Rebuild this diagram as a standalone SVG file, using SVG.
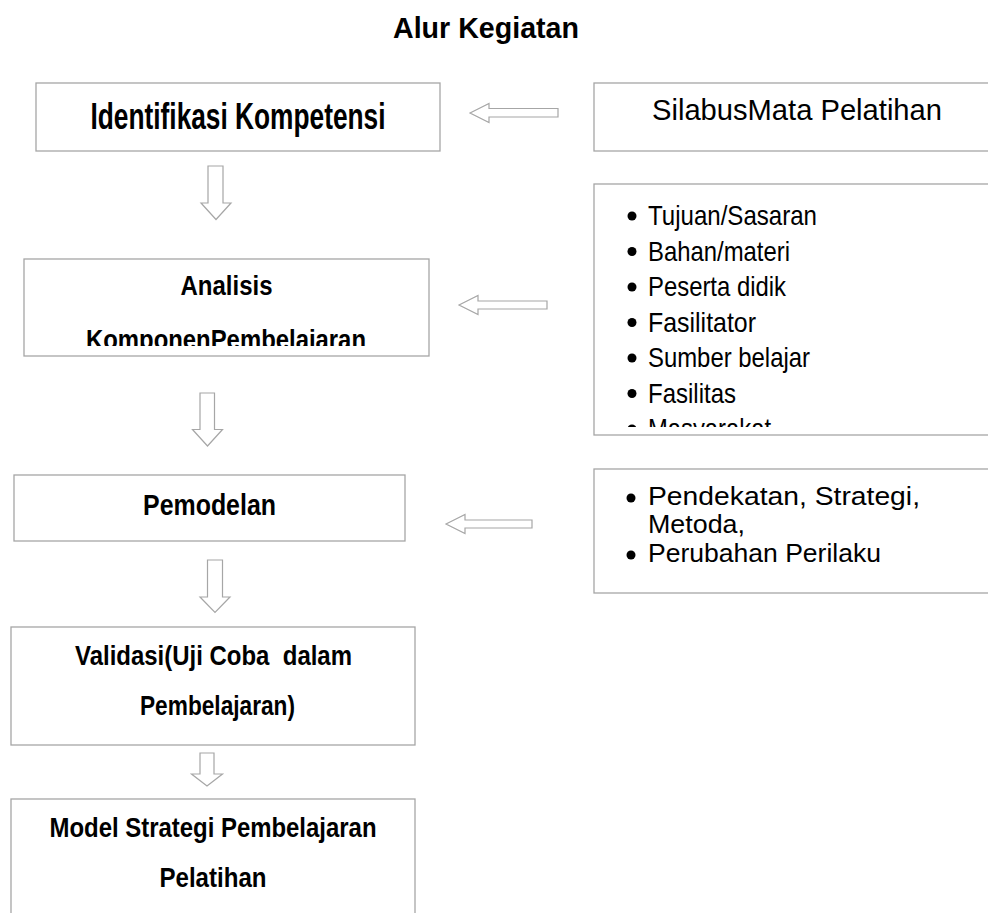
<svg xmlns="http://www.w3.org/2000/svg" width="988" height="913" viewBox="0 0 988 913">
<style>
.box{fill:#fff;stroke:#a6a6a6;stroke-width:1.3}
.arr{fill:#fff;stroke:#a6a6a6;stroke-width:1.2;stroke-linejoin:miter}
.b{font-family:"Liberation Sans",Arial,sans-serif;font-weight:bold;fill:#000;text-anchor:middle}
.r{font-family:"Liberation Sans",Arial,sans-serif;fill:#000}
.li{font-family:"Liberation Sans",Arial,sans-serif;font-size:28px;fill:#000}
.dot{fill:#000}
</style>
<defs>
<clipPath id="clipA"><rect x="24" y="259" width="405" height="87"/></clipPath>
<clipPath id="clipL"><rect x="594" y="184" width="400" height="243"/></clipPath>
</defs>
<rect width="988" height="913" fill="#fff"/>
<text id="title" class="b" x="486" y="38" font-size="29" textLength="186" lengthAdjust="spacingAndGlyphs">Alur Kegiatan</text>

<g id="connectors">
<polygon class="arr" points="470,113 489,103.5 489,108.5 558,108.5 558,117 489,117 489,122.5"/>
<polygon class="arr" points="459,305 478,295.5 478,301 547,301 547,309 478,309 478,314.5"/>
<polygon class="arr" points="446,524 465,514.5 465,520 532,520 532,528 465,528 465,533.5"/>
<polygon class="arr" points="208,166 223,166 223,203 231,203 216,219.5 201,203 208,203"/>
<polygon class="arr" points="200,393 214.5,393 214.5,429.5 222.5,429.5 207.5,446 192.5,429.5 200,429.5"/>
<polygon class="arr" points="207.5,560 222.5,560 222.5,597 230,597 215,612.5 200,597 207.5,597"/>
<polygon class="arr" points="200,753 214,753 214,774 222.5,774 207,786 191.5,774 200,774"/>
</g>

<g id="identifikasi">
<rect class="box" x="36" y="83" width="404" height="68"/>
<text class="b" x="238" y="129" font-size="36" textLength="295" lengthAdjust="spacingAndGlyphs">Identifikasi Kompetensi</text>
</g>

<g id="silabus">
<rect class="box" x="594" y="83" width="400" height="68"/>
<text class="r" x="652" y="120" font-size="30" textLength="290" lengthAdjust="spacingAndGlyphs">SilabusMata Pelatihan</text>
</g>

<g id="komponen-list">
<rect class="box" x="594" y="184" width="400" height="251"/>
<g clip-path="url(#clipL)">
<circle class="dot" cx="632" cy="216" r="4.5"/><text class="li" x="648" y="225" textLength="169" lengthAdjust="spacingAndGlyphs">Tujuan/Sasaran</text>
<circle class="dot" cx="632" cy="251.5" r="4.5"/><text class="li" x="648" y="260.5" textLength="142" lengthAdjust="spacingAndGlyphs">Bahan/materi</text>
<circle class="dot" cx="632" cy="287" r="4.5"/><text class="li" x="648" y="296" textLength="138" lengthAdjust="spacingAndGlyphs">Peserta didik</text>
<circle class="dot" cx="632" cy="322.5" r="4.5"/><text class="li" x="648" y="331.5" textLength="108" lengthAdjust="spacingAndGlyphs">Fasilitator</text>
<circle class="dot" cx="632" cy="358" r="4.5"/><text class="li" x="648" y="367" textLength="162" lengthAdjust="spacingAndGlyphs">Sumber belajar</text>
<circle class="dot" cx="632" cy="393.5" r="4.5"/><text class="li" x="648" y="402.5" textLength="88" lengthAdjust="spacingAndGlyphs">Fasilitas</text>
<circle class="dot" cx="632" cy="429" r="4.5"/><text class="li" x="648" y="438" textLength="123" lengthAdjust="spacingAndGlyphs">Masyarakat</text>
</g>
</g>

<g id="analisis">
<rect class="box" x="24" y="259" width="405" height="97"/>
<text class="b" x="226.5" y="295" font-size="28" textLength="92" lengthAdjust="spacingAndGlyphs">Analisis</text>
<g clip-path="url(#clipA)">
<text class="b" x="226" y="349" font-size="28" textLength="280" lengthAdjust="spacingAndGlyphs">KomponenPembelajaran</text>
</g>
</g>

<g id="pemodelan">
<rect class="box" x="14" y="475" width="391" height="66"/>
<text class="b" x="209.5" y="515" font-size="29" textLength="133" lengthAdjust="spacingAndGlyphs">Pemodelan</text>
</g>

<g id="strategi-list">
<rect class="box" x="594" y="469" width="400" height="124"/>
<circle class="dot" cx="631" cy="498" r="4.5"/>
<text class="r" x="648" y="505" font-size="25" textLength="272" lengthAdjust="spacingAndGlyphs">Pendekatan, Strategi,</text>
<text class="r" x="648" y="533" font-size="25" textLength="97" lengthAdjust="spacingAndGlyphs">Metoda,</text>
<circle class="dot" cx="631" cy="555" r="4.5"/>
<text class="r" x="648" y="562" font-size="25" textLength="233" lengthAdjust="spacingAndGlyphs">Perubahan Perilaku</text>
</g>

<g id="validasi">
<rect class="box" x="11" y="627" width="404" height="118"/>
<text class="b" x="213.5" y="665" font-size="28" textLength="277" lengthAdjust="spacingAndGlyphs" xml:space="preserve" style="white-space:pre">Validasi(Uji Coba  dalam</text>
<text class="b" x="217.5" y="715" font-size="28" textLength="155" lengthAdjust="spacingAndGlyphs">Pembelajaran)</text>
</g>

<g id="model">
<rect class="box" x="11" y="799" width="404" height="130"/>
<text class="b" x="213" y="837" font-size="28" textLength="327" lengthAdjust="spacingAndGlyphs">Model Strategi Pembelajaran</text>
<text class="b" x="213" y="887" font-size="28" textLength="107" lengthAdjust="spacingAndGlyphs">Pelatihan</text>
</g>
</svg>
